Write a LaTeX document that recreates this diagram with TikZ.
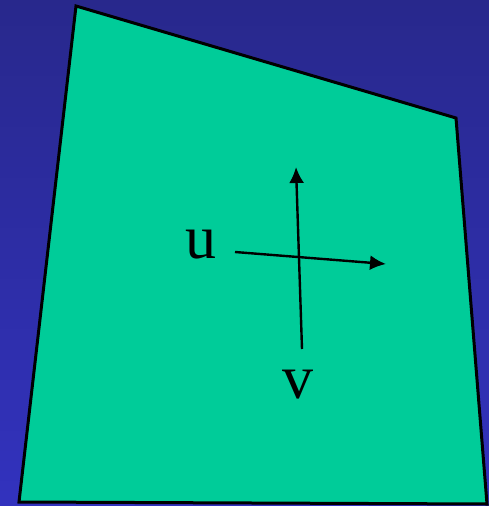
\documentclass[tikz,border=0pt]{standalone}
\usepackage{fontspec}
\setmainfont{Liberation Serif}
\usetikzlibrary{positioning,arrows.meta}
\definecolor{deepblue}{RGB}{40, 40, 140}
\definecolor{lightblue}{RGB}{50, 50, 190}
\definecolor{seagreen}{RGB}{0, 204, 153}

\begin{document}
\begin{tikzpicture}[
    x=1pt, y=-1pt,
    >={Latex[length=16pt, width=15pt]},
    patch/.style={
        draw=black,
        fill=seagreen,
        line width=3pt,
        line join=miter
    },
    axis/.style={
        ->,
        line width=2.4pt,
        draw=black
    },
    letter/.style={
        font=\fontsize{62}{62}\selectfont,
        inner sep=0pt
    }
]

    % 1. Background
    \shade[top color=deepblue, bottom color=lightblue] (0,0) rectangle (489,506);
    \useasboundingbox (0,0) rectangle (489,506);

    % 2. Surface patch
    \coordinate (tl) at (76,6);
    \coordinate (tr) at (456,118);
    \coordinate (br) at (487,504);
    \coordinate (bl) at (19,502);
    \draw[patch] (tl) -- (tr) -- (br) -- (bl) -- cycle;

    % 3. Parameter directions
    \coordinate (ustart) at (235,252);
    \coordinate (uend) at (386,264);
    \coordinate (vstart) at (302,349);
    \coordinate (vend) at (296,167);

    \draw[axis] (ustart) -- (uend);
    \draw[axis] (vstart) -- (vend);

    \node[letter] (ulabel) at (201,245) {u};
    \node[letter] (vlabel) at (298,385) {v};

\end{tikzpicture}
\end{document}
